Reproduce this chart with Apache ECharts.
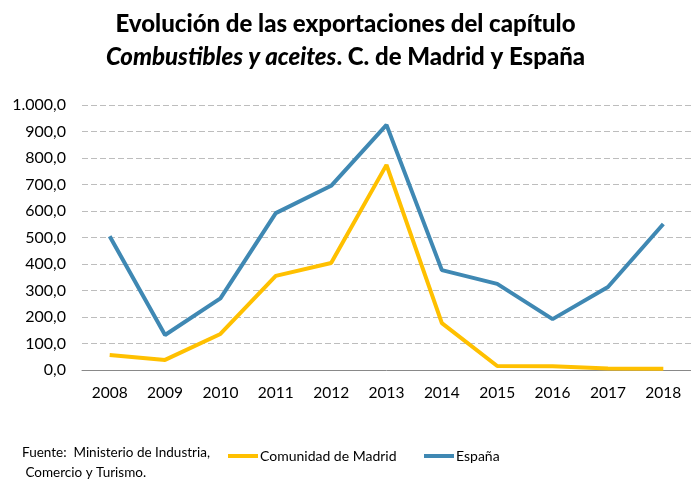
<!DOCTYPE html>
<html>
<head>
<meta charset="utf-8">
<script src="https://cdn.jsdelivr.net/npm/echarts@6/dist/echarts.min.js"></script>
<style>
  html, body { margin: 0; padding: 0; background: #fff; }
  #chart { width: 691px; height: 482px; }
</style>
</head>
<body>
<div id="chart"></div>
<script>
const years = ['2008', '2009', '2010', '2011', '2012', '2013', '2014', '2015', '2016', '2017', '2018'];
const madrid = [57, 38, 136, 355, 404, 774, 177, 15, 14, 6, 5];
const espana = [505, 132, 270, 592, 695, 925, 377, 325, 192, 313, 551];

const font = 'Lato, "Open Sans", sans-serif';

// 1000 -> "1.000,0"
function fmt(v) {
  const s = Math.round(v).toString().replace(/\B(?=(\d{3})+(?!\d))/g, '.');
  return s + ',0';
}

const chart = echarts.init(document.getElementById('chart'));
const option = {
  animation: false,
  color: ['#FFC000', '#3F88B3'],
  title: {
    left: 'center',
    top: 3,
    text: '{b|Evolución de las exportaciones del capítulo}\n{i|Combustibles y aceites}{b|. C. de Madrid y España}',
    textStyle: {
      rich: {
        b: { fontFamily: font, fontWeight: 900, fontSize: 24, color: '#000', lineHeight: 33 },
        i: { fontFamily: font, fontWeight: 900, fontStyle: 'italic', fontSize: 24, color: '#000', lineHeight: 33 }
      }
    }
  },
  graphic: [{
    type: 'text',
    left: 22,
    top: 443,
    style: {
      text: 'Fuente:  Ministerio de Industria,\n Comercio y Turismo.',
      font: '13.5px ' + font,
      fill: '#000',
      lineHeight: 20
    }
  }],
  legend: [{
    data: ['Comunidad de Madrid'],
    left: 223,
    top: 444,
    itemWidth: 30,
    itemHeight: 4,
    icon: 'rect',
    textStyle: { fontFamily: font, fontSize: 14, color: '#000', padding: [0, 0, 0, -3] }
  }, {
    data: ['España'],
    left: 419,
    top: 444,
    itemWidth: 30,
    itemHeight: 4,
    icon: 'rect',
    textStyle: { fontFamily: font, fontSize: 14, color: '#000', padding: [0, 0, 0, -3] }
  }],
  grid: {
    left: 82,
    right: -9,
    top: 105,
    bottom: 112,
    containLabel: false
  },
  xAxis: {
    type: 'category',
    data: years,
    boundaryGap: true,
    axisLine: { lineStyle: { color: '#898989', width: 1 } },
    axisTick: { show: false },
    axisLabel: { fontFamily: font, fontSize: 15.5, color: '#000', margin: 15 }
  },
  yAxis: {
    type: 'value',
    min: 0,
    max: 1000,
    interval: 100,
    axisLine: { show: false },
    axisTick: { show: false },
    splitLine: { lineStyle: { color: '#bdbdbd', type: [6, 3], width: 1 } },
    axisLabel: { fontFamily: font, fontSize: 16, color: '#000', margin: 16, formatter: fmt }
  },
  series: [{
    name: 'Comunidad de Madrid',
    type: 'line',
    data: madrid,
    showSymbol: false,
    lineStyle: { width: 4 }
  }, {
    name: 'España',
    type: 'line',
    data: espana,
    showSymbol: false,
    lineStyle: { width: 4 }
  }]
};
chart.setOption(option);
</script>
</body>
</html>
